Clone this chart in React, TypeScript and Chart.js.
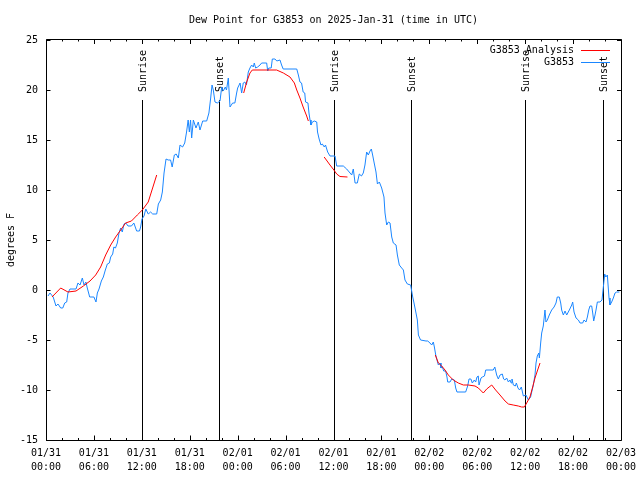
import React, { useEffect, useRef } from "react";
import { Chart, registerables } from "chart.js";

Chart.register(...registerables);

const TITLE = "Dew Point for G3853 on 2025-Jan-31 (time in UTC)";
const Y_LABEL = "degrees F";
const OBS_LABEL = "G3853";
const ANALYSIS_LABEL = "G3853 Analysis";
const FONT = '"DejaVu Sans Mono", "Liberation Mono", monospace';

const xTickDates = ["01/31", "01/31", "01/31", "01/31", "02/01", "02/01", "02/01", "02/01", "02/02", "02/02", "02/02", "02/02", "02/03"];
const xTickTimes = ["00:00", "06:00", "12:00", "18:00", "00:00", "06:00", "12:00", "18:00", "00:00", "06:00", "12:00", "18:00", "00:00"];

const sunEventHours = [12.02, 21.7, 36.1, 45.7, 60.0, 69.8];
const sunEventNames = ["Sunrise", "Sunset", "Sunrise", "Sunset", "Sunrise", "Sunset"];

// Observations: hours since 01/31 00:00 UTC, dew point (F)
const obsHours = [
  0.25, 0.5, 0.9, 1.25, 1.5, 1.84, 2.1, 2.34, 2.59, 2.75, 3.0, 3.76, 4.0, 4.26, 4.55, 4.76, 5.0, 5.17, 5.47, 5.76,
  6.0, 6.26, 6.43, 6.64, 6.93, 7.18, 7.43, 7.68, 7.93, 8.1, 8.35, 8.5, 8.7, 8.93, 9.14, 9.35, 9.55, 9.77, 10.0, 10.27,
  10.7, 11.0, 11.35, 11.7, 11.85, 12.02, 12.27, 12.5, 12.8, 13.1, 13.36, 13.86, 14.07, 14.36, 14.57, 14.78, 15.03, 15.3, 15.6, 15.8,
  16.07, 16.3, 16.57, 16.78, 17.1, 17.37, 17.6, 17.8, 17.95, 18.1, 18.24, 18.45, 18.78, 19.07, 19.28, 19.62, 20.12, 20.4, 20.62, 20.79,
  20.95, 21.16, 21.45, 21.79, 22.0, 22.2, 22.45, 22.6, 22.83, 23.04, 23.37, 23.65, 23.87, 24.0, 24.3, 24.5, 24.7, 24.9, 25.1, 25.33,
  25.54, 25.75, 25.96, 26.08, 26.25, 26.5, 26.8, 27.0, 27.63, 27.76, 27.9, 28.2, 28.34, 28.67, 28.9, 29.3, 29.5, 29.7, 31.4, 31.6,
  31.8, 32.0, 32.2, 32.4, 32.5, 32.8, 32.93, 33.06, 33.18, 33.35, 33.6, 33.9, 34.0, 34.2, 34.43, 34.6, 34.85, 35.0, 35.27, 35.56,
  36.19, 36.4, 37.23, 37.65, 38.07, 38.28, 38.48, 38.7, 38.98, 39.23, 39.5, 39.73, 39.94, 40.15, 40.36, 40.57, 40.74, 40.9, 41.07, 41.32,
  41.5, 41.74, 42.03, 42.32, 42.45, 42.66, 42.87, 43.08, 43.29, 43.49, 43.83, 44.0, 44.24, 44.54, 44.75, 44.95, 45.25, 45.66, 45.92, 46.08,
  46.33, 46.5, 46.63, 46.9, 47.58, 47.8, 48.08, 48.3, 48.5, 48.63, 48.8, 48.96, 49.13, 49.35, 49.46, 49.63, 49.8, 50.04, 50.21, 50.3,
  50.59, 50.8, 51.13, 51.3, 51.46, 52.55, 52.8, 52.97, 53.2, 53.38, 53.63, 53.8, 53.97, 54.13, 54.22, 54.47, 54.64, 54.9, 55.06, 56.0,
  56.2, 56.43, 56.64, 56.85, 57.14, 57.3, 57.47, 57.68, 57.9, 58.1, 58.25, 58.35, 58.52, 58.77, 58.9, 59.1, 59.3, 59.52, 59.77, 60.1,
  60.4, 60.68, 60.82, 61.0, 61.23, 61.36, 61.52, 61.7, 61.78, 61.94, 62.07, 62.27, 62.48, 62.6, 62.78, 63.02, 63.32, 63.62, 63.86, 64.02,
  64.27, 64.45, 64.57, 64.78, 64.99, 65.2, 65.53, 65.83, 65.95, 66.12, 66.37, 66.66, 66.87, 67.2, 67.37, 67.62, 67.79, 67.96, 68.12, 68.33,
  68.46, 68.58, 68.75, 68.87, 69.04, 69.37, 69.62, 69.79, 69.96, 70.1, 70.29, 70.38, 70.5, 70.62, 70.83, 71.04, 71.25, 71.46, 71.8
];
const obsValues = [
  -0.6, -0.3, -0.7, -1.6, -1.4, -1.8, -1.8, -1.3, -1.2, -0.3, 0.1, 0.1, 0.7, 0.5, 1.2, 0.5, 0.8, 0.2, -0.7, -0.7,
  -0.7, -1.2, -0.3, 0.1, 0.9, 1.3, 2.0, 2.6, 2.7, 3.3, 3.6, 4.3, 4.2, 4.7, 5.7, 6.2, 5.8, 6.6, 6.7, 6.4,
  6.4, 6.7, 5.9, 5.9, 6.3, 7.1, 7.4, 8.1, 7.6, 7.8, 7.6, 7.6, 8.6, 9.0, 9.8, 11.7, 13.1, 13.0, 13.0, 12.3,
  13.5, 13.6, 13.2, 14.5, 14.3, 14.7, 15.8, 17.0, 15.8, 17.0, 15.2, 17.0, 16.2, 16.8, 16.0, 16.9, 16.9, 17.7, 19.2, 20.5,
  20.0, 18.8, 18.7, 18.9, 20.3, 19.9, 20.3, 20.0, 21.2, 18.3, 18.7, 18.7, 19.7, 20.2, 20.7, 19.7, 20.7, 20.8, 20.5, 21.8,
  22.2, 22.5, 22.3, 22.7, 22.2, 22.3, 22.5, 22.7, 22.7, 21.9, 22.2, 22.2, 23.1, 23.1, 22.9, 23.0, 22.5, 22.1, 22.1, 21.5,
  20.8, 20.7, 19.8, 19.7, 18.8, 18.7, 17.7, 17.0, 16.5, 16.8, 16.9, 16.8, 15.8, 15.1, 14.5, 14.6, 14.3, 14.5, 13.8, 13.4,
  13.4, 12.4, 12.4, 12.1, 11.7, 11.5, 12.1, 10.7, 10.7, 11.6, 11.4, 11.7, 12.5, 13.8, 13.5, 13.9, 14.1, 13.5, 12.8, 11.8,
  10.6, 10.8, 10.2, 9.3, 7.7, 6.5, 6.8, 6.7, 5.3, 4.7, 4.5, 3.5, 2.5, 2.2, 2.0, 1.0, 0.6, 0.5, -0.7, -1.3,
  -2.3, -3.0, -4.5, -5.0, -5.1, -5.1, -5.3, -5.5, -5.2, -5.7, -6.5, -7.0, -7.5, -7.3, -7.8, -7.7, -8.1, -8.1, -8.7, -9.2,
  -9.2, -8.9, -9.0, -9.8, -10.2, -10.2, -9.6, -8.9, -8.9, -9.3, -9.0, -9.2, -8.7, -8.6, -9.5, -8.8, -8.7, -8.6, -8.0, -8.0,
  -7.7, -8.5, -8.9, -8.5, -8.4, -8.9, -9.0, -8.8, -9.2, -9.0, -9.3, -8.9, -9.5, -9.6, -9.3, -9.8, -10.0, -9.7, -10.6, -10.5,
  -11.0, -10.7, -10.2, -9.6, -8.5, -7.3, -6.6, -6.3, -6.8, -5.3, -4.3, -3.6, -2.0, -3.2, -3.0, -2.5, -2.0, -1.7, -1.3, -0.7,
  -0.7, -1.3, -2.0, -2.5, -2.1, -2.5, -2.0, -1.5, -1.2, -2.2, -2.8, -3.0, -3.3, -3.3, -3.0, -3.2, -2.7, -2.0, -1.6, -1.6,
  -2.3, -3.1, -2.5, -2.0, -1.2, -1.2, -1.0, 0.3, 1.6, 1.3, 1.5, 0.5, -0.8, -1.5, -1.2, -0.8, -0.3, -0.2, -0.2
];

// Analysis: null values mark breaks between segments
const analysisHours = [
  0.75, 1.84, 2.75, 3.76, 4.68, 5.51, 6.22, 6.84, 7.47, 8.1, 8.72, 9.35, 9.97, 10.7, 11.43, 12.06, 12.8, 13.86,
  19.0,
  24.75, 25.13, 25.54, 25.83, 28.88, 29.72, 30.55, 31.1, 31.4, 31.8, 32.2, 32.64, 32.85,
  33.8,
  34.83, 35.56, 36.05, 36.4, 36.81, 37.75,
  43.0,
  48.75, 49.13, 49.55, 49.96, 50.38, 51.0, 51.63, 52.26, 52.88, 53.72, 54.14, 54.76, 55.18, 55.81, 56.3, 56.85, 57.48, 57.9,
  58.5, 59.14, 59.56, 59.9, 60.19, 60.6, 60.94, 61.23, 61.52, 61.86
];
const analysisValues = [
  -0.7, 0.2, -0.2, -0.1, 0.4, 0.9, 1.5, 2.3, 3.5, 4.5, 5.3, 6.0, 6.7, 6.9, 7.5, 8.0, 8.8, 11.5,
  null,
  19.7, 20.8, 21.7, 22.0, 22.0, 21.7, 21.3, 20.7, 20.0, 19.2, 18.3, 17.4, 16.9,
  null,
  13.3, 12.5, 12.0, 11.6, 11.35, 11.3,
  null,
  -6.5, -7.3, -7.6, -8.0, -8.5, -9.0, -9.3, -9.5, -9.5, -9.6, -9.8, -10.3, -9.9, -9.5, -10.0, -10.5, -11.1, -11.4,
  -11.5, -11.6, -11.7, -11.7, -11.3, -10.7, -9.7, -8.8, -8.1, -7.3
];

const ANALYSIS_COLOR = "#ff0000";
const OBS_COLOR = "#1a86ff";
const SERIES_COLORS = [ANALYSIS_COLOR, OBS_COLOR];

const gnuplotDecor = {
  id: "gnuplotDecor",
  beforeDatasetsDraw(chart: any) {
    const { ctx, chartArea, scales } = chart;
    const { top, bottom } = chartArea;
    const h = bottom - top;
    ctx.save();
    ctx.strokeStyle = "#000";
    ctx.lineWidth = 1;
    ctx.fillStyle = "#000";
    ctx.font = `10px ${FONT}`;
    sunEventHours.forEach((hr, i) => {
      const px = Math.round(scales.x.getPixelForValue(hr)) + 0.5;
      ctx.beginPath();
      ctx.moveTo(px, bottom);
      ctx.lineTo(px, Math.round(bottom - 0.85 * h));
      ctx.stroke();
      ctx.save();
      ctx.translate(px + 1, bottom - 0.87 * h);
      ctx.rotate(-Math.PI / 2);
      ctx.textAlign = "left";
      ctx.textBaseline = "middle";
      ctx.fillText(sunEventNames[i], 0, 0);
      ctx.restore();
    });
    ctx.restore();
  },
  afterDatasetsDraw(chart: any) {
    const { ctx, chartArea, scales } = chart;
    const { left, right, top, bottom } = chartArea;
    ctx.save();
    ctx.strokeStyle = "#000";
    ctx.lineWidth = 1;
    // frame
    ctx.beginPath();
    ctx.rect(left + 0.5, top - 0.5, right - left, bottom - top + 1);
    ctx.stroke();
    // x ticks (major every 6h, minor every 2h), top and bottom, inward
    const xs = scales.x;
    for (let v = xs.min; v <= xs.max + 1e-9; v += 2) {
      const major = Math.abs(v % 6) < 1e-9;
      const len = major ? 4.5 : 2;
      const px = Math.round(xs.getPixelForValue(v)) + 0.5;
      ctx.beginPath();
      ctx.moveTo(px, bottom);
      ctx.lineTo(px, bottom - len);
      ctx.moveTo(px, top - 0.5);
      ctx.lineTo(px, top - 0.5 + len);
      ctx.stroke();
    }
    // y ticks
    const ys = scales.y;
    ys.ticks.forEach((t: any) => {
      const py = Math.round(ys.getPixelForValue(t.value)) + 0.5;
      ctx.beginPath();
      ctx.moveTo(left, py);
      ctx.lineTo(left + 4.5, py);
      ctx.moveTo(right + 0.5, py);
      ctx.lineTo(right + 0.5 - 4.5, py);
      ctx.stroke();
    });
    // legend (gnuplot style: text right-aligned, sample line to the right)
    ctx.font = `10px ${FONT}`;
    ctx.textAlign = "right";
    ctx.textBaseline = "middle";
    chart.data.datasets.forEach((ds: any, i: number) => {
      const y = top + 10 + i * 12;
      ctx.fillStyle = "#000";
      ctx.fillText(ds.label, right - 47, y);
      ctx.strokeStyle = SERIES_COLORS[i];
      ctx.lineWidth = 1;
      ctx.beginPath();
      ctx.moveTo(right - 40, Math.round(y) + 0.5);
      ctx.lineTo(right - 11, Math.round(y) + 0.5);
      ctx.stroke();
    });
    ctx.restore();
  },
};

export default function App() {
  const canvasRef = useRef<HTMLCanvasElement | null>(null);

  useEffect(() => {
    document.body.style.margin = "0";
    const canvas = canvasRef.current;
    if (!canvas) return;
    const tickFont = { family: FONT, size: 10, weight: "normal" as const, lineHeight: 1.45 };
    const chart = new Chart(canvas, {
      type: "line",
      data: {
        datasets: [
          {
            label: ANALYSIS_LABEL,
            data: analysisHours.map((h, i) => ({ x: h, y: analysisValues[i] })),
            borderColor: ANALYSIS_COLOR,
            backgroundColor: ANALYSIS_COLOR,
            borderWidth: 1,
            pointRadius: 0,
            tension: 0,
            spanGaps: false,
            fill: false,
          },
          {
            label: OBS_LABEL,
            data: obsHours.map((h, i) => ({ x: h, y: obsValues[i] })),
            borderColor: OBS_COLOR,
            backgroundColor: OBS_COLOR,
            borderWidth: 1,
            pointRadius: 0,
            tension: 0,
            fill: false,
          },
        ],
      },
      options: {
        responsive: false,
        maintainAspectRatio: false,
        animation: false,
        layout: { padding: { left: 0, right: 19, top: 0, bottom: 0 } },
        plugins: {
          legend: { display: false },
          tooltip: { enabled: false },
          title: {
            display: true,
            text: TITLE,
            fullSize: false,
            color: "#000",
            font: { family: FONT, size: 10, weight: "normal", lineHeight: 1.2 },
            padding: { top: 14, bottom: 14 },
          },
        },
        scales: {
          x: {
            type: "linear",
            min: 0,
            max: 72,
            grid: { display: false, drawTicks: false },
            border: { display: false },
            ticks: {
              stepSize: 6,
              autoSkip: false,
              maxRotation: 0,
              minRotation: 0,
              padding: 6,
              color: "#000",
              font: tickFont,
              callback: (v: any) => {
                const i = Math.round(Number(v) / 6);
                return [xTickDates[i], xTickTimes[i]];
              },
            },
            afterFit: (s: any) => {
              s.height = 40;
              s.paddingLeft = 0;
              s.paddingRight = 0;
            },
          },
          y: {
            type: "linear",
            min: -15,
            max: 25,
            grid: { display: false, drawTicks: false },
            border: { display: false },
            ticks: {
              stepSize: 5,
              padding: 8,
              color: "#000",
              font: { family: FONT, size: 10, weight: "normal", lineHeight: 1.2 },
            },
            title: {
              display: true,
              text: Y_LABEL,
              color: "#000",
              font: { family: FONT, size: 10, weight: "normal", lineHeight: 1.2 },
              padding: { top: 5, bottom: 0 },
            },
            afterFit: (s: any) => {
              s.width = 46;
            },
          },
        },
      },
      plugins: [gnuplotDecor],
    });
    return () => chart.destroy();
  }, []);

  return (
    <div style={{ width: 640, height: 480, background: "#fff" }}>
      <canvas ref={canvasRef} width={640} height={480} style={{ display: "block" }} />
    </div>
  );
}
